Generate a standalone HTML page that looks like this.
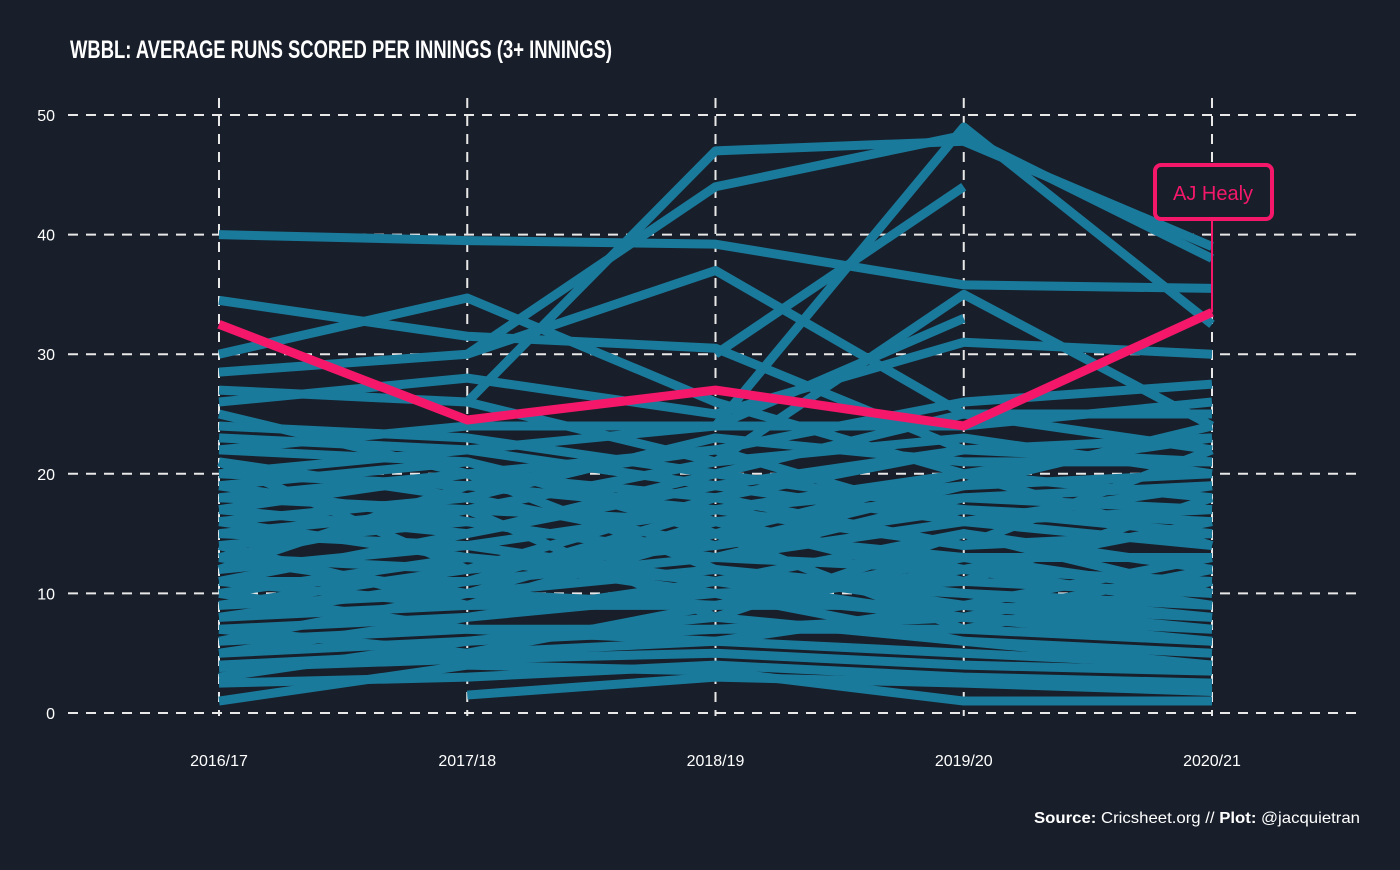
<!DOCTYPE html>
<html><head><meta charset="utf-8"><style>
body{margin:0;background:#181f2a;}
svg text{font-family:"Liberation Sans Narrow","Liberation Sans",sans-serif;}
</style></head><body>
<svg id="chart" width="1400" height="865" xmlns="http://www.w3.org/2000/svg">
<rect width="1400" height="865" fill="#181f2a"/>
<text x="70" y="58" fill="#ffffff" font-size="25" font-weight="bold" textLength="542" lengthAdjust="spacingAndGlyphs">WBBL: AVERAGE RUNS SCORED PER INNINGS (3+ INNINGS)</text>
<g id="grid"></g><g id="lines"></g><g id="hl"></g><g id="ann"></g>
<text x="1360" y="823" text-anchor="end" fill="#ffffff" font-size="16" textLength="326" lengthAdjust="spacingAndGlyphs"><tspan font-weight="bold">Source:</tspan> Cricsheet.org // <tspan font-weight="bold">Plot:</tspan> @jacquietran</text>
</svg>
<script>
const seasons=["2016/17","2017/18","2018/19","2019/20","2020/21"];
const yTicks=[0,10,20,30,40,50];
const healy=[32.5,24.5,27,24,33.5];
const players=[
[40,39.5,39.2,35.8,35.5],
[34.5,31.5,30.5,22,null],
[30,34.7,26,20,23],
[28.5,30,37,25,22],
[null,26,47,47.8,39],
[null,30,44,48.3,38],
[null,null,24,49,32.5],
[null,null,30,44,null],
[27,26,21,35,24],
[22,24,24,33,null],
[26,28,25,31,30],
[25,20,22,26,27.5],
[24,23,20,25,25],
[23,22,19,22,23],
[21,18,23,21,21],
[20,19,17,19,20],
[19,21,15,20,18],
[18,17,16,18,19],
[17,15,19,16,17],
[16,18,14,17,16],
[15,14,17,14,15],
[14,16,13,16,14],
[13,12,15,13,13],
[12,14,11,15,12],
[11,11,13,12,11],
[10,13,10,11,10],
[9,10,12,10,9],
[8,9,9,9,8],
[7,8,11,8,7],
[6,7,7,7,6],
[5,6,8,6,5],
[4,5,6,5,4],
[3.8,4.5,5,4,3.5],
[2.5,3,4,3,2.5],
[1,4,3.5,1,1],
[null,1.5,3,2.5,1.8],
[13,10,9,12,9],
[18,20,12,9,13],
[21,12,18,14,22],
[11,15,20,17,15],
[9,12,14,19,24],
[14,9,10,8,12],
[6,10,16,11,18],
[15,17,21,23,20],
[20,22,24,24,26],
[7,5,9,13,10],
[10,7,6,9,7],
[12,19,22,16,19],
[16,13,11,10,8],
[8,11,17,20,14],
[19,16,13,18,17],
[5,8,10,6,4],
[3,6,7,8,6],
[17,20,18,22,21],
[22,21,16,12,16],
[11,9,15,7,11],
[13,17,8,15,10]
];
const X0=219,XS=248.25,Y0=713,YS=11.96;
const xp=i=>X0+i*XS, yp=v=>Y0-v*YS;
const NS="http://www.w3.org/2000/svg";
function mk(t,a,p){const e=document.createElementNS(NS,t);for(const k in a)e.setAttribute(k,a[k]);p.appendChild(e);return e;}
const grid=document.getElementById('grid');
yTicks.forEach(v=>{
 const l=mk('line',{x1:68,x2:1356,y1:yp(v),y2:yp(v),stroke:'#e8e8e8','stroke-width':2,'stroke-dasharray':'10 8'},grid);
 
 
 const t=mk('text',{x:55,y:yp(v)+6,'text-anchor':'end',fill:'#fff','font-size':16},grid);t.textContent=v;
 
 
});
seasons.forEach((s,i)=>{
 const l=mk('line',{x1:xp(i),x2:xp(i),y1:98,y2:716,stroke:'#e8e8e8','stroke-width':2,'stroke-dasharray':'10 8'},grid);
 
 
 const t=mk('text',{x:xp(i),y:766,'text-anchor':'middle',fill:'#fff','font-size':16},grid);t.textContent=s;
 
 
});
function path(arr){let d='',pen=false;arr.forEach((v,i)=>{if(v==null){pen=false;return;}d+=(pen?'L':'M')+xp(i)+' '+yp(v)+' ';pen=true;});return d;}
const lg=document.getElementById('lines');
players.forEach(p=>{
 const e=mk('path',{d:path(p),fill:'none',stroke:'#1a7a9c','stroke-width':9,'stroke-linejoin':'round'},lg);
 
 
});
const h=mk('path',{d:path(healy),fill:'none',stroke:'#f5186a','stroke-width':9,'stroke-linejoin':'round'},document.getElementById('hl'));


const ann=document.getElementById('ann');
const last=healy[healy.length-1];
const c=mk('line',{x1:xp(4),x2:xp(4),y1:219,y2:yp(last),stroke:'#f5186a','stroke-width':2},ann);


const b=mk('rect',{x:1155,y:165,width:117,height:54,rx:6,fill:'#181f2a',stroke:'#f5186a','stroke-width':4},ann);


const t=mk('text',{x:1213,y:200,'text-anchor':'middle',fill:'#f5186a','font-size':20},ann);t.textContent='AJ Healy';


</script>
</body></html>
